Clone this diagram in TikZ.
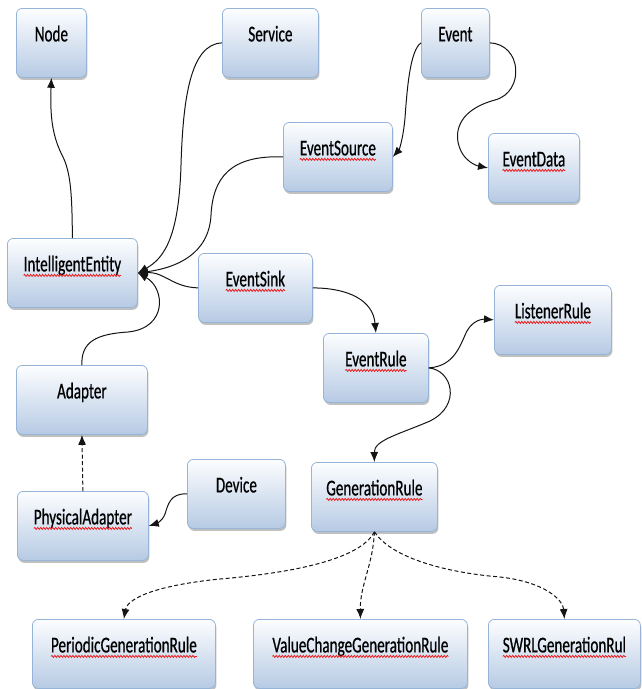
\documentclass[tikz,border=0pt]{standalone}
\usepackage{fontspec}
\usetikzlibrary{arrows.meta,shadows,decorations.pathmorphing}

% Condensed Calibri-metric face for the class labels
\newfontfamily\boxface{Carlito}[FakeStretch=0.67, FakeBold=0.6]
\newcommand\boxfont{\boxface\fontsize{22.6pt}{26pt}\selectfont}

\definecolor{boxedge}{RGB}{150,180,216}
\definecolor{boxtop}{RGB}{253,254,255}
\definecolor{boxbot}{RGB}{182,202,228}
\definecolor{spellred}{RGB}{235,30,30}
\definecolor{linkcol}{RGB}{20,20,20}

\tikzset{
  cls/.style={draw=boxedge, line width=0.8pt, rounded corners=6pt,
    top color=boxtop, bottom color=boxbot,
    drop shadow={shadow xshift=1pt, shadow yshift=-2.5pt, opacity=0.45, fill=black!55},
    anchor=north west, minimum height=69pt, inner ysep=10pt, inner xsep=2pt,
    text height=23pt, text depth=26pt, font=\boxfont, text=black},
  link/.style={draw=linkcol, line width=1pt, -{Latex[length=10pt,width=8pt]}},
  dlink/.style={link, dash pattern=on 4pt off 2.5pt},
  squig/.style={draw=spellred, line width=0.8pt, decorate,
    decoration={snake, amplitude=1pt, segment length=3pt}},
}

% label widths are measured before the picture starts
\newlength\spellw
\newcommand\measurelabel[2]{\settowidth{\spellw}{\boxfont #2}%
  \expandafter\xdef\csname spellw@#1\endcsname{\the\spellw}}
\AtBeginDocument{%
  \measurelabel{esrc}{EventSource}%
  \measurelabel{edata}{EventData}%
  \measurelabel{ie}{IntelligentEntity}%
  \measurelabel{sink}{EventSink}%
  \measurelabel{lrule}{ListenerRule}%
  \measurelabel{erule}{EventRule}%
  \measurelabel{padapter}{PhysicalAdapter}%
  \measurelabel{grule}{GenerationRule}%
  \measurelabel{per}{PeriodicGenerationRule}%
  \measurelabel{vc}{ValueChangeGenerationRule}%
  \measurelabel{swrl}{SWRLGenerationRul}%
}

% wavy underline below the label of a named box
\newcommand\spellmark[1]{\edef\sw{\csname spellw@#1\endcsname}%
  \draw[squig] ([xshift=-0.5*\sw, yshift=-4pt]#1.base) -- ([xshift=0.5*\sw, yshift=-4pt]#1.base);}

\begin{document}
\begin{tikzpicture}[x=1pt, y=-1pt]
\useasboundingbox (0,0) rectangle (641,689);

% classes
\node[cls, minimum width=70pt]  (node)     at (16,8)    {Node};
\node[cls, minimum width=96pt]  (service)  at (222,8)   {Service};
\node[cls, minimum width=68pt]  (event)    at (421,8)   {Event};
\node[cls, minimum width=109pt] (esrc)     at (283,122) {EventSource};
\node[cls, minimum width=91pt]  (edata)    at (488,133) {EventData};
\node[cls, minimum width=130pt] (ie)       at (7,238)   {IntelligentEntity};
\node[cls, minimum width=114pt] (sink)     at (198,253) {EventSink};
\node[cls, minimum width=117pt] (lrule)    at (494,285) {ListenerRule};
\node[cls, minimum width=105pt] (erule)    at (323,333) {EventRule};
\node[cls, minimum width=131pt] (adapter)  at (16,365)  {Adapter};
\node[cls, minimum width=98pt]  (device)   at (187,459) {Device};
\node[cls, minimum width=131pt] (padapter) at (17,491)  {PhysicalAdapter};
\node[cls, minimum width=126pt] (grule)    at (311,462) {GenerationRule};
\node[cls, minimum width=183pt] (per)      at (32,619)  {PeriodicGenerationRule};
\node[cls, minimum width=214pt] (vc)       at (253,619) {ValueChangeGenerationRule};
\node[cls, minimum width=152pt] (swrl)     at (488,619) {SWRLGenerationRul};

% spelling marks
\spellmark{esrc}
\spellmark{edata}
\spellmark{ie}
\spellmark{sink}
\spellmark{lrule}
\spellmark{erule}
\spellmark{padapter}
\spellmark{grule}
\spellmark{per}
\spellmark{vc}
\spellmark{swrl}

% associations
\draw[link] (ie.north) .. controls (72,195) and (71,172) .. (62,155)
            .. controls (52,135) and (50,115) .. (node.south);
\draw[link] (service.west) .. controls (190,44) and (183,100) .. (181,165)
            .. controls (179,235) and (165,258) .. (ie.east);
\draw[link] (esrc.west) .. controls (230,155) and (213,178) .. (211,215)
            .. controls (209,255) and (175,268) .. (ie.east);
\draw[link] (sink.west) .. controls (172,287) and (165,272) .. (ie.east);
\draw[link] (adapter.north) .. controls (81,342) and (96,334) .. (128,332)
            .. controls (168,328) and (165,288) .. (ie.east);
\draw[link] (event.west) .. controls (410,50) and (407,90) .. (405,118)
            .. controls (403,140) and (399,150) .. (esrc.east);
\draw[link] (event.east) .. controls (522,44) and (525,92) .. (495,100)
            .. controls (465,108) and (455,125) .. (458,142)
            .. controls (462,162) and (478,166) .. (edata.west);
\draw[link] (sink.east) .. controls (348,288) and (373,300) .. (erule.north);
\draw[link] (erule.east) .. controls (455,366) and (460,345) .. (467,331)
            .. controls (473,320) and (483,319) .. (lrule.west);
\draw[link] (erule.east) .. controls (452,370) and (462,405) .. (430,421)
            .. controls (400,434) and (374,440) .. (grule.north);
\draw[link] (device.west) .. controls (170,493) and (168,505) .. (165,514)
            .. controls (162,522) and (155,524) .. (padapter.east);

% realisations
\draw[dlink] (padapter.north) -- (adapter.south);
\draw[dlink] (grule.south) .. controls (360,560) and (290,573) .. (220,579)
             .. controls (150,586) and (127,600) .. (per.north);
\draw[dlink] (grule.south) .. controls (373,565) and (360,585) .. (vc.north);
\draw[dlink] (grule.south) .. controls (390,556) and (440,572) .. (500,577)
             .. controls (545,582) and (563,600) .. (swrl.north);
\end{tikzpicture}
\end{document}
